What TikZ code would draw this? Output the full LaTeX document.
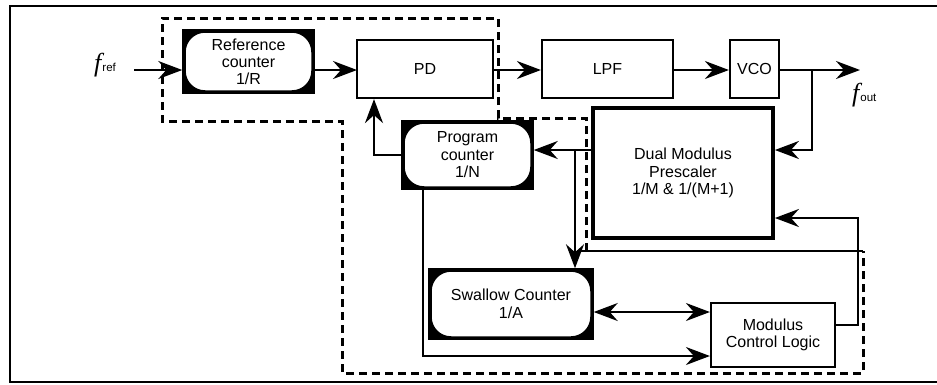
\documentclass[tikz,border=0pt]{standalone}
\usepackage{fontspec}
\setmainfont{Liberation Sans}
\newfontfamily\serifit{Liberation Serif}
\usetikzlibrary{arrows.meta,backgrounds}
\begin{document}
\begin{tikzpicture}[x=1pt,y=-1pt,
  font=\fontsize{16}{17.5}\selectfont,
  blk/.style={draw, line width=2.2pt, fill=white, inner sep=0pt, align=center},
  cnt/.style={draw, line width=3.5pt, fill=white, rounded corners=21pt, inner sep=0pt, align=center},
  sig/.style={line width=2.2pt, -{Stealth[length=24pt,width=18pt,inset=8pt]}},
  dsig/.style={line width=2.2pt, {Stealth[length=24pt,width=18pt,inset=8pt]}-{Stealth[length=24pt,width=18pt,inset=8pt]}},
  dashreg/.style={line width=3pt, dash pattern=on 8pt off 5pt},
  frame/.style={line width=2pt},
  lbl/.style={inner sep=0pt}
]
\useasboundingbox (0,0) rectangle (937,384);
% outer frame
\draw[frame] (937,6) -- (10,6) -- (10,382) -- (937,382);

% dashed region
\draw[dashreg] (586,251) -- (586,118) -- (498,118) -- (498,18) -- (162,18) -- (162,121) -- (342,121) -- (342,373) -- (863,373) -- (863,251);
\draw[line width=1.6pt] (578,251) -- (863,251);

% blocks
\node[cnt, minimum width=129pt, minimum height=61pt] (rc) at (248.5,61.5) {Reference\\counter\\[-1pt]1/R};
\node[blk, minimum width=136pt, minimum height=58pt] (pd) at (425,69) {PD};
\node[blk, minimum width=131pt, minimum height=58pt] (lpf) at (607.5,69) {LPF};
\node[blk, minimum width=49pt, minimum height=58pt] (vco) at (754.5,69) {VCO};
\node[blk, line width=3.8pt, minimum width=180pt, minimum height=130pt] (pre) at (683,173) {Dual Modulus\\Prescaler\\1/M \& 1/(M+1)};
\node[cnt, minimum width=129pt, minimum height=66pt] (pc) at (467.5,155) {Program\\counter\\1/N};
\node[cnt, minimum width=162pt, minimum height=68pt] (sc) at (511,304) {Swallow Counter\\1/A};
\node[blk, minimum width=124pt, minimum height=64pt] (mcl) at (773,335) {Modulus\\Control Logic};

\begin{scope}[on background layer]
  \fill (rc.north west) rectangle (rc.south east);
  \fill (pc.north west) rectangle (pc.south east);
  \fill (sc.north west) rectangle (sc.south east);
\end{scope}

% labels
\node[lbl, anchor=base west] (fref) at (94,71) {{\serifit\itshape\fontsize{26}{26}\selectfont f}\kern1pt{\fontsize{11.5}{11.5}\selectfont ref}};
\node[lbl, anchor=base west] (fout) at (852,101) {{\serifit\itshape\fontsize{26}{26}\selectfont f}\kern1pt{\fontsize{11.5}{11.5}\selectfont out}};

% connectors
\coordinate (fin) at (134,70);
\draw[sig] (fin) -- (fin -| rc.west);
\coordinate (pin) at (357,70);
\draw[sig] (pin -| rc.east) -- (pin);
\coordinate (l1) at (493,70);
\draw[sig] (l1) -- (l1 -| lpf.west);
\coordinate (l2) at (673,70);
\draw[sig] (l2) -- (l2 -| vco.west);
\coordinate (vo) at (779,70);
\coordinate (out) at (860,70);
\draw[sig] (vo) -- (out);
\coordinate (br) at (812,70);
\coordinate (pe1) at ([yshift=23pt]pre.east);
\draw[sig] (br) |- (pe1);
\coordinate (pe2) at ([yshift=-45pt]pre.east);
\draw[sig] ([yshift=10pt]mcl.east) -- ++(22,0) |- (pe2);
\coordinate (pw) at ([yshift=23pt]pre.west);
\draw[sig] (pw) -- (pw -| pc.east);
\coordinate (sb) at (575,150);
\draw[sig] (sb) -- (sb |- sc.north);
\draw[sig] (pc.west) -| ([xshift=-51pt]pd.south);
\draw[sig] ([xshift=-44.5pt]pc.south) |- ([yshift=-21pt]mcl.west);
\coordinate (dm) at ([yshift=23pt]mcl.west);
\draw[dsig] (dm -| sc.east) -- (dm);
\end{tikzpicture}
\end{document}
